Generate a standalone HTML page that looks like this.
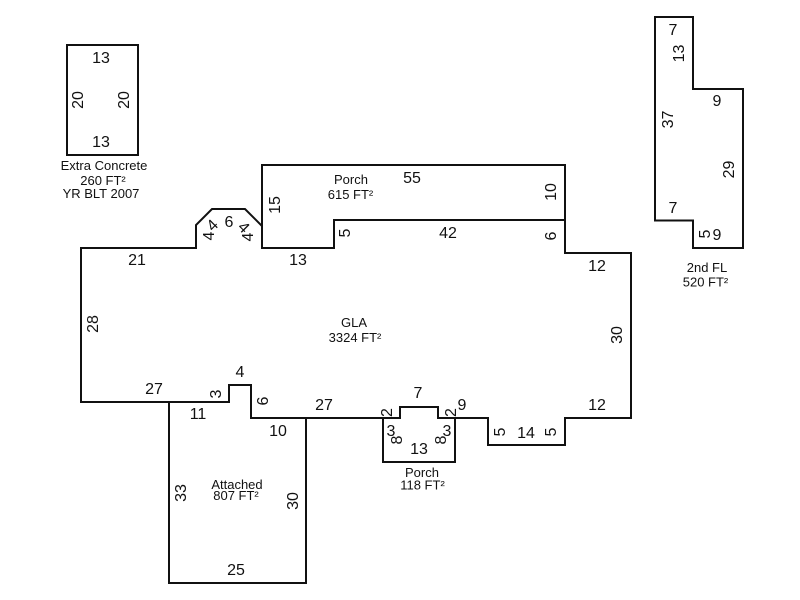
<!DOCTYPE html>
<html><head><meta charset="utf-8"><style>
html,body{margin:0;padding:0;background:#fff}
svg{display:block}
text{font-family:"Liberation Sans",Arial,sans-serif;fill:#111;text-anchor:middle}
.d{font-size:16px}
.l{font-size:13px}
path{fill:none;stroke:#111;stroke-width:2}
</style></head><body>
<svg width="800" height="600" viewBox="0 0 800 600" xmlns="http://www.w3.org/2000/svg">
<path d="M67 45H138V155H67Z"/>
<path d="M81 248H196V225L212 209H245L262 226V248H334V220H565V253H631V418H565V445H488V418H438V407H400V418H251V385H229V402H81Z"/>
<path d="M262 226V165H565V220"/>
<path d="M383 418V462H455V418"/>
<path d="M169 402V583H306V418"/>
<path d="M655 17H693V89H743V248H693V220.500H655Z"/>

<text class="d" x="101" y="63">13</text>
<text class="d" x="101" y="147">13</text>
<text class="d" transform="translate(83,100) rotate(-90)">20</text>
<text class="d" transform="translate(129,100) rotate(-90)">20</text>
<text class="l" x="104" y="170">Extra Concrete</text>
<text class="l" x="103" y="185">260 FT²</text>
<text class="l" x="101" y="198">YR BLT 2007</text>

<text class="l" x="351" y="184">Porch</text>
<text class="l" x="350.500" y="199">615 FT²</text>
<text class="d" x="412" y="183">55</text>
<text class="d" transform="translate(556,192) rotate(-90)">10</text>
<text class="d" transform="translate(280,205) rotate(-90)">15</text>
<text class="d" x="298" y="265">13</text>
<text class="d" x="448" y="238">42</text>
<text class="d" transform="translate(350,233) rotate(-90)">5</text>
<text class="d" transform="translate(556,236) rotate(-90)">6</text>
<text class="d" x="597" y="271">12</text>
<text class="d" transform="translate(622,335) rotate(-90)">30</text>
<text class="l" x="354" y="327">GLA</text>
<text class="l" x="355" y="342">3324 FT²</text>

<text class="d" x="137" y="265">21</text>
<text class="d" transform="translate(214,236) rotate(-90)">4</text>
<text class="d" transform="translate(216,229) rotate(-45)">4</text>
<text class="d" x="229" y="227">6</text>
<text class="d" transform="translate(253,237) rotate(-90)">4</text>
<text class="d" transform="translate(240,231) rotate(45)">4</text>

<text class="d" transform="translate(98,324) rotate(-90)">28</text>
<text class="d" x="154" y="394">27</text>
<text class="d" x="198" y="419">11</text>
<text class="d" transform="translate(221,394) rotate(-90)">3</text>
<text class="d" x="240" y="377">4</text>
<text class="d" transform="translate(268,401) rotate(-90)">6</text>
<text class="d" x="278" y="436">10</text>
<text class="d" x="324" y="410">27</text>
<text class="d" transform="translate(186,493) rotate(-90)">33</text>
<text class="d" transform="translate(298,501) rotate(-90)">30</text>
<text class="d" x="236" y="575">25</text>
<text class="l" x="237" y="489">Attached</text>
<text class="l" x="236" y="500">807 FT²</text>

<text class="d" x="418" y="398">7</text>
<text class="d" transform="translate(392,412.500) rotate(-90)">2</text>
<text class="d" transform="translate(456,412.500) rotate(-90)">2</text>
<text class="d" x="462" y="410">9</text>
<text class="d" x="391" y="436">3</text>
<text class="d" x="447" y="436">3</text>
<text class="d" transform="translate(402,440) rotate(-90)">8</text>
<text class="d" transform="translate(446,440) rotate(-90)">8</text>
<text class="d" x="419" y="454">13</text>
<text class="l" x="422" y="477">Porch</text>
<text class="l" x="422.500" y="489.500">118 FT²</text>

<text class="d" transform="translate(505,432) rotate(-90)">5</text>
<text class="d" x="526" y="438">14</text>
<text class="d" transform="translate(556,432) rotate(-90)">5</text>
<text class="d" x="597" y="410">12</text>

<text class="d" x="673" y="35">7</text>
<text class="d" transform="translate(684,53.500) rotate(-90)">13</text>
<text class="d" x="717" y="106">9</text>
<text class="d" transform="translate(673,119.500) rotate(-90)">37</text>
<text class="d" transform="translate(734,169.500) rotate(-90)">29</text>
<text class="d" x="673" y="213">7</text>
<text class="d" transform="translate(710,234) rotate(-90)">5</text>
<text class="d" x="717" y="240">9</text>
<text class="l" x="707" y="272">2nd FL</text>
<text class="l" x="705.500" y="286.500">520 FT²</text>
</svg>
</body></html>
